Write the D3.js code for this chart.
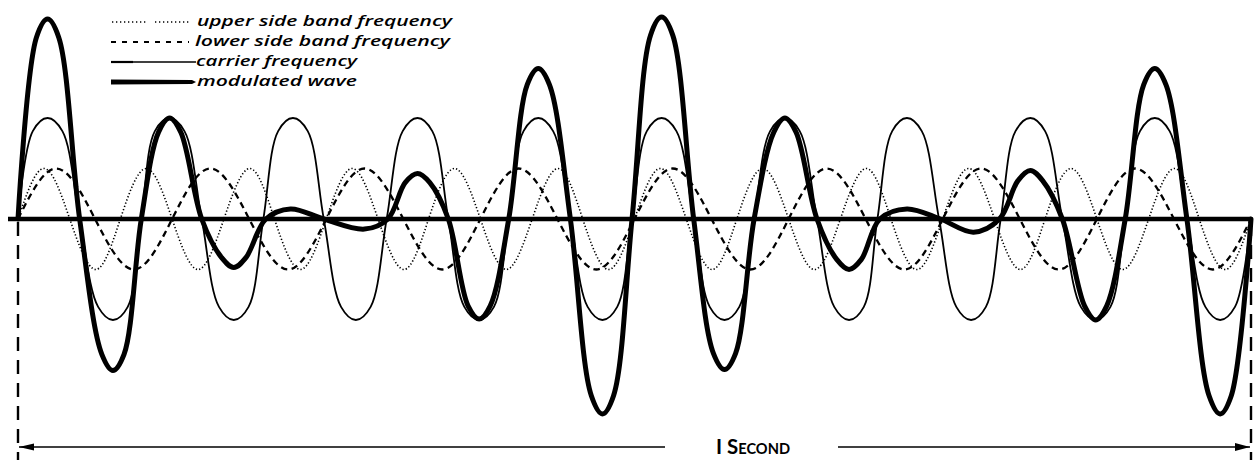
<!DOCTYPE html>
<html>
<head>
<meta charset="utf-8">
<script src="https://cdn.jsdelivr.net/npm/d3@7"></script>
<style>
  html, body { margin: 0; padding: 0; background: #fff; }
  svg { display: block; }
</style>
</head>
<body>
<svg id="chart" width="1258" height="460"></svg>
<script>
// ---- data: [time in seconds, amplitude (carrier = 1)] ----
const upperSideBand = [[0,0],[0.021,0.5],[0.042,0],[0.063,-0.5],[0.083,0],[0.104,0.5],[0.125,0],[0.146,-0.5],[0.167,0],[0.188,0.5],[0.208,0],[0.229,-0.5],[0.250,0],[0.271,0.5],[0.292,0],[0.313,-0.5],[0.333,0],[0.354,0.5],[0.375,0],[0.396,-0.5],[0.417,0],[0.438,0.5],[0.458,0],[0.479,-0.5],[0.500,0],[0.521,0.5],[0.542,0],[0.563,-0.5],[0.583,0],[0.604,0.5],[0.625,0],[0.646,-0.5],[0.667,0],[0.688,0.5],[0.708,0],[0.729,-0.5],[0.750,0],[0.771,0.5],[0.792,0],[0.813,-0.5],[0.833,0],[0.854,0.5],[0.875,0],[0.896,-0.5],[0.917,0],[0.938,0.5],[0.958,0],[0.979,-0.5],[1.0,0]];

const lowerSideBand = [[0,0],[0.031,0.5],[0.0625,0],[0.094,-0.5],[0.125,0],[0.156,0.5],[0.1875,0],[0.219,-0.5],[0.25,0],[0.281,0.5],[0.3125,0],[0.344,-0.5],[0.375,0],[0.406,0.5],[0.4375,0],[0.469,-0.5],[0.5,0],[0.531,0.5],[0.5625,0],[0.594,-0.5],[0.625,0],[0.656,0.5],[0.6875,0],[0.719,-0.5],[0.75,0],[0.781,0.5],[0.8125,0],[0.844,-0.5],[0.875,0],[0.906,0.5],[0.9375,0],[0.969,-0.5],[1.0,0]];

const carrierWave = [[0,0],[0.012,0.87],[0.024,1],[0.036,0.87],[0.050,0],[0.065,-0.87],[0.077,-1],[0.089,-0.87],[0.100,0],[0.111,0.87],[0.123,1],[0.135,0.87],[0.149,0],[0.163,-0.87],[0.175,-1],[0.187,-0.87],[0.199,0],[0.211,0.87],[0.223,1],[0.235,0.87],[0.248,0],[0.262,-0.87],[0.274,-1],[0.286,-0.87],[0.299,0],[0.312,0.87],[0.324,1],[0.336,0.87],[0.349,0],[0.362,-0.87],[0.374,-1],[0.386,-0.87],[0.398,0],[0.410,0.87],[0.422,1],[0.434,0.87],[0.448,0],[0.462,-0.87],[0.474,-1],[0.486,-0.87],[0.498,0],[0.510,0.87],[0.522,1],[0.534,0.87],[0.548,0],[0.561,-0.87],[0.573,-1],[0.585,-0.87],[0.597,0],[0.610,0.87],[0.622,1],[0.634,0.87],[0.648,0],[0.662,-0.87],[0.674,-1],[0.686,-0.87],[0.697,0],[0.709,0.87],[0.721,1],[0.733,0.87],[0.747,0],[0.761,-0.87],[0.773,-1],[0.785,-0.87],[0.797,0],[0.809,0.87],[0.821,1],[0.833,0.87],[0.847,0],[0.862,-0.87],[0.874,-1],[0.886,-0.87],[0.898,0],[0.910,0.87],[0.922,1],[0.934,0.87],[0.948,0],[0.963,-0.87],[0.975,-1],[0.987,-0.87],[1.0,0]];

const modulatedWave = [[0,0],[0.015,1.80],[0.024,1.98],[0.033,1.80],[0.050,0],[0.068,-1.34],[0.077,-1.50],[0.086,-1.34],[0.100,0],[0.114,0.86],[0.123,1.00],[0.132,0.86],[0.149,0],[0.165,-0.38],[0.175,-0.48],[0.185,-0.38],[0.201,0],[0.221,0.10],[0.248,0],[0.281,-0.10],[0.300,0],[0.314,0.36],[0.324,0.45],[0.334,0.36],[0.349,0],[0.365,-0.86],[0.374,-0.99],[0.383,-0.86],[0.398,0],[0.413,1.33],[0.422,1.49],[0.431,1.33],[0.448,0],[0.465,-1.75],[0.474,-1.93],[0.483,-1.75],[0.498,0],[0.513,1.82],[0.522,2.00],[0.531,1.82],[0.548,0],[0.564,-1.33],[0.573,-1.49],[0.582,-1.33],[0.597,0],[0.613,0.86],[0.622,1.00],[0.631,0.86],[0.648,0],[0.664,-0.40],[0.674,-0.50],[0.684,-0.40],[0.699,0],[0.721,0.10],[0.748,0],[0.775,-0.13],[0.796,0],[0.811,0.38],[0.821,0.48],[0.831,0.38],[0.847,0],[0.865,-0.86],[0.874,-1.00],[0.883,-0.86],[0.898,0],[0.913,1.33],[0.922,1.49],[0.931,1.33],[0.948,0],[0.966,-1.75],[0.975,-1.93],[0.984,-1.75],[1.0,0]];

const legendLabels = ["upper side band frequency", "lower side band frequency", "carrier frequency", "modulated wave"];
const spanLabel = "I Second";
const timeSpan = [0, 1];

// ---- drawing ----
const svg = d3.select("#chart");
const ink = "#000";

const x = d3.scaleLinear().domain(timeSpan).range([18, 1251]);
const y = d3.scaleLinear().domain([-2, 2]).range([421, 17]);

const lineNatural = d3.line().x(d => x(d[0])).y(d => y(d[1])).curve(d3.curveNatural);
const lineDrawn = d3.line().x(d => x(d[0])).y(d => y(d[1])).curve(d3.curveCatmullRom.alpha(0.5));

// side bands
svg.append("path").datum(upperSideBand)
  .attr("d", lineNatural).attr("fill", "none").attr("stroke", ink)
  .attr("stroke-width", 1.6).attr("stroke-dasharray", "1.3,2.1");
svg.append("path").datum(lowerSideBand)
  .attr("d", lineNatural).attr("fill", "none").attr("stroke", ink)
  .attr("stroke-width", 2.3).attr("stroke-dasharray", "6.5,4.5");
// carrier
svg.append("path").datum(carrierWave)
  .attr("d", lineDrawn).attr("fill", "none").attr("stroke", ink)
  .attr("stroke-width", 1.8).attr("stroke-linejoin", "round");

// zero line
svg.append("line")
  .attr("x1", x(timeSpan[0]) - 10).attr("x2", x(timeSpan[1]))
  .attr("y1", y(0)).attr("y2", y(0))
  .attr("stroke", ink).attr("stroke-width", 4.5);

// modulated wave
svg.append("path").datum(modulatedWave)
  .attr("d", lineDrawn).attr("fill", "none").attr("stroke", ink)
  .attr("stroke-width", 5).attr("stroke-linejoin", "round").attr("stroke-linecap", "round");

// dashed verticals at start and end of the second
timeSpan.forEach(t => {
  svg.append("line")
    .attr("x1", x(t)).attr("x2", x(t))
    .attr("y1", y(0) + 3).attr("y2", 460)
    .attr("stroke", ink).attr("stroke-width", 2.4)
    .attr("stroke-dasharray", "14,9");
});

// span arrow
const ay = 447;
const x0 = x(timeSpan[0]) + 1, x1 = x(timeSpan[1]) - 1;
svg.append("line").attr("x1", x0).attr("x2", 665).attr("y1", ay).attr("y2", ay)
  .attr("stroke", ink).attr("stroke-width", 1.6);
svg.append("line").attr("x1", 838).attr("x2", x1).attr("y1", ay).attr("y2", ay)
  .attr("stroke", ink).attr("stroke-width", 1.6);
svg.append("path").attr("d", `M${x0},${ay} L${x0 + 15},${ay - 3.5} L${x0 + 15},${ay + 3.5} Z`).attr("fill", ink);
svg.append("path").attr("d", `M${x1},${ay} L${x1 - 15},${ay - 4} L${x1 - 15},${ay + 4} Z`).attr("fill", ink);

svg.append("text")
  .attr("x", 716).attr("y", 454)
  .attr("font-family", "Lato, 'Open Sans', sans-serif")
  .attr("font-weight", 700).attr("font-size", 21)
  .style("font-variant", "small-caps")
  .attr("textLength", 74).attr("lengthAdjust", "spacingAndGlyphs")
  .attr("fill", ink)
  .text(spanLabel);

// legend
const legend = svg.append("g");
const rowY = [22, 42, 62, 82];
const textX = [197, 195, 196, 197];
const textW = [255, 255, 161, 160];
// dotted (two groups)
legend.append("line").attr("x1", 112).attr("x2", 148).attr("y1", rowY[0]).attr("y2", rowY[0])
  .attr("stroke", ink).attr("stroke-width", 1.4).attr("stroke-dasharray", "1.3,2.7");
legend.append("line").attr("x1", 155).attr("x2", 189).attr("y1", rowY[0]).attr("y2", rowY[0])
  .attr("stroke", ink).attr("stroke-width", 1.4).attr("stroke-dasharray", "1.3,2.7");
// dashed
legend.append("line").attr("x1", 111).attr("x2", 189).attr("y1", rowY[1]).attr("y2", rowY[1])
  .attr("stroke", ink).attr("stroke-width", 2.2).attr("stroke-dasharray", "5,6");
// carrier
legend.append("line").attr("x1", 111).attr("x2", 196).attr("y1", rowY[2]).attr("y2", rowY[2])
  .attr("stroke", ink).attr("stroke-width", 1.5);
legend.append("line").attr("x1", 111).attr("x2", 133).attr("y1", rowY[2]).attr("y2", rowY[2])
  .attr("stroke", ink).attr("stroke-width", 2.2);
// modulated
legend.append("path")
  .attr("d", `M111,${rowY[3] - 2.6} L192,${rowY[3] - 2} L196,${rowY[3]} L192,${rowY[3] + 2} L111,${rowY[3] + 2.6} Z`)
  .attr("fill", ink);

legend.selectAll("text").data(legendLabels).join("text")
  .attr("x", (d, i) => textX[i]).attr("y", (d, i) => rowY[i] + 4)
  .attr("font-family", "'Open Sans', 'DejaVu Sans', sans-serif")
  .attr("font-style", "italic").attr("font-weight", 600).attr("font-size", 14.5)
  .attr("textLength", (d, i) => textW[i]).attr("lengthAdjust", "spacingAndGlyphs")
  .attr("fill", ink)
  .text(d => d);
</script>
</body>
</html>
